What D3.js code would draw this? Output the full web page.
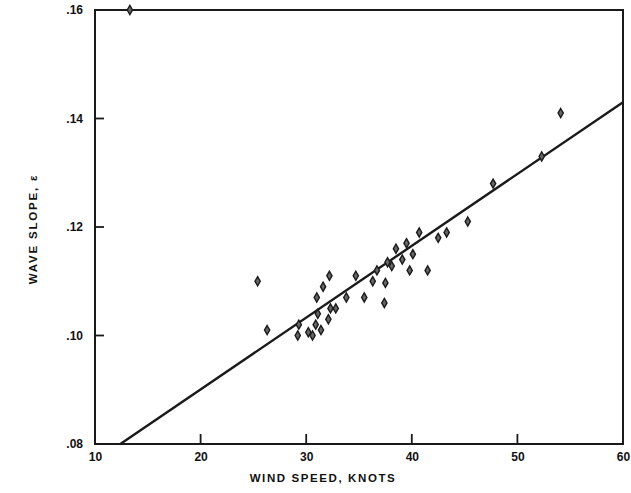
<!DOCTYPE html>
<html>
<head>
<meta charset="utf-8">
<script src="https://cdn.jsdelivr.net/npm/d3@7/dist/d3.min.js"></script>
<style>
  html, body { margin: 0; padding: 0; background: #fff; }
  svg { display: block; }
  text { font-family: "Liberation Sans", Arial, sans-serif; font-weight: bold; fill: #111; }
</style>
</head>
<body>
<div id="chart"></div>
<script>
// Wind speed (knots) vs. observed wave slope
const windSpeed = [25.4, 26.3, 32.2, 31.6, 31.0, 29.3, 29.2, 30.2, 30.6, 30.9,
                   31.4, 31.1, 32.3, 32.1, 32.8, 33.8, 34.7, 35.5, 36.3, 37.5,
                   37.4, 36.7, 38.5, 39.5, 40.1, 39.1, 39.8, 41.5, 40.7, 42.5,
                   43.3, 45.3, 54.1, 47.7, 52.3, 37.7, 38.1, 13.3];
const waveSlope = [0.110, 0.101, 0.111, 0.109, 0.107, 0.102, 0.100, 0.1006, 0.100, 0.102,
                   0.101, 0.104, 0.105, 0.103, 0.105, 0.107, 0.111, 0.107, 0.110, 0.1097,
                   0.106, 0.112, 0.116, 0.117, 0.115, 0.114, 0.112, 0.112, 0.119, 0.118,
                   0.119, 0.121, 0.141, 0.128, 0.133, 0.1135, 0.1128, 0.160];

// Fitted line end points
const fitX = [12.4, 60];
const fitY = [0.080, 0.143];

const xTicks = [10, 20, 30, 40, 50, 60];
const yTicks = [0.08, 0.10, 0.12, 0.14, 0.16];
const yTickLabels = [".08", ".10", ".12", ".14", ".16"];

const W = 631, H = 493;
const svg = d3.select("#chart").append("svg").attr("width", W).attr("height", H);

const x = d3.scaleLinear().domain([10, 60]).range([95, 623]);
const y = d3.scaleLinear().domain([0.08, 0.16]).range([444, 10]);

const ink = "#1a1a1a";

// Frame
svg.append("rect")
  .attr("x", x(10)).attr("y", y(0.16))
  .attr("width", x(60) - x(10)).attr("height", y(0.08) - y(0.16))
  .attr("fill", "none").attr("stroke", ink).attr("stroke-width", 2);

// Bottom axis: inward ticks, labels below
const xAxis = d3.axisBottom(x).tickValues(xTicks).tickSize(0).tickPadding(8)
  .tickFormat(d3.format("d"));
const gx = svg.append("g").attr("transform", `translate(0,${y(0.08)})`).call(xAxis);
gx.select(".domain").remove();
gx.selectAll("text").attr("font-size", 12).style("font-weight", "bold");
svg.append("g").selectAll("line")
  .data(xTicks.filter(d => d > 10 && d < 60))
  .join("line")
  .attr("x1", d => x(d)).attr("x2", d => x(d))
  .attr("y1", y(0.08)).attr("y2", y(0.08) - 10)
  .attr("stroke", ink).attr("stroke-width", 1.8);

// Left axis: inward ticks, labels to the left
const yAxis = d3.axisLeft(y).tickValues(yTicks).tickSize(0).tickPadding(12)
  .tickFormat((d, i) => yTickLabels[i]);
const gy = svg.append("g").attr("transform", `translate(${x(10)},0)`).call(yAxis);
gy.select(".domain").remove();
gy.selectAll("text").attr("font-size", 12).style("font-weight", "bold");
svg.append("g").selectAll("line")
  .data(yTicks.filter(d => d > 0.08 && d < 0.16))
  .join("line")
  .attr("x1", x(10)).attr("x2", x(10) + 9)
  .attr("y1", d => y(d)).attr("y2", d => y(d))
  .attr("stroke", ink).attr("stroke-width", 1.8);

// Axis titles
svg.append("text")
  .attr("x", 323).attr("y", 482)
  .attr("text-anchor", "middle").attr("font-size", 11.5)
  .attr("letter-spacing", 1.6)
  .text("WIND SPEED, KNOTS");
svg.append("text")
  .attr("transform", `translate(37,${(y(0.08) + y(0.16)) / 2 + 2}) rotate(-90)`)
  .attr("text-anchor", "middle").attr("font-size", 11.5)
  .attr("letter-spacing", 1.8)
  .text("WAVE SLOPE, ε");

// Regression line
const line = d3.line().x(d => x(d[0])).y(d => y(d[1]));
svg.append("path")
  .datum(d3.zip(fitX, fitY))
  .attr("d", line)
  .attr("fill", "none").attr("stroke", ink).attr("stroke-width", 2.4);

// Observations
const sym = d3.symbol().type(d3.symbolDiamond).size(24);
svg.append("g").selectAll("path")
  .data(d3.zip(windSpeed, waveSlope))
  .join("path")
  .attr("transform", d => `translate(${x(d[0])},${y(d[1])})`)
  .attr("d", sym)
  .attr("fill", "#666").attr("stroke", ink).attr("stroke-width", 1.4);
</script>
</body>
</html>
